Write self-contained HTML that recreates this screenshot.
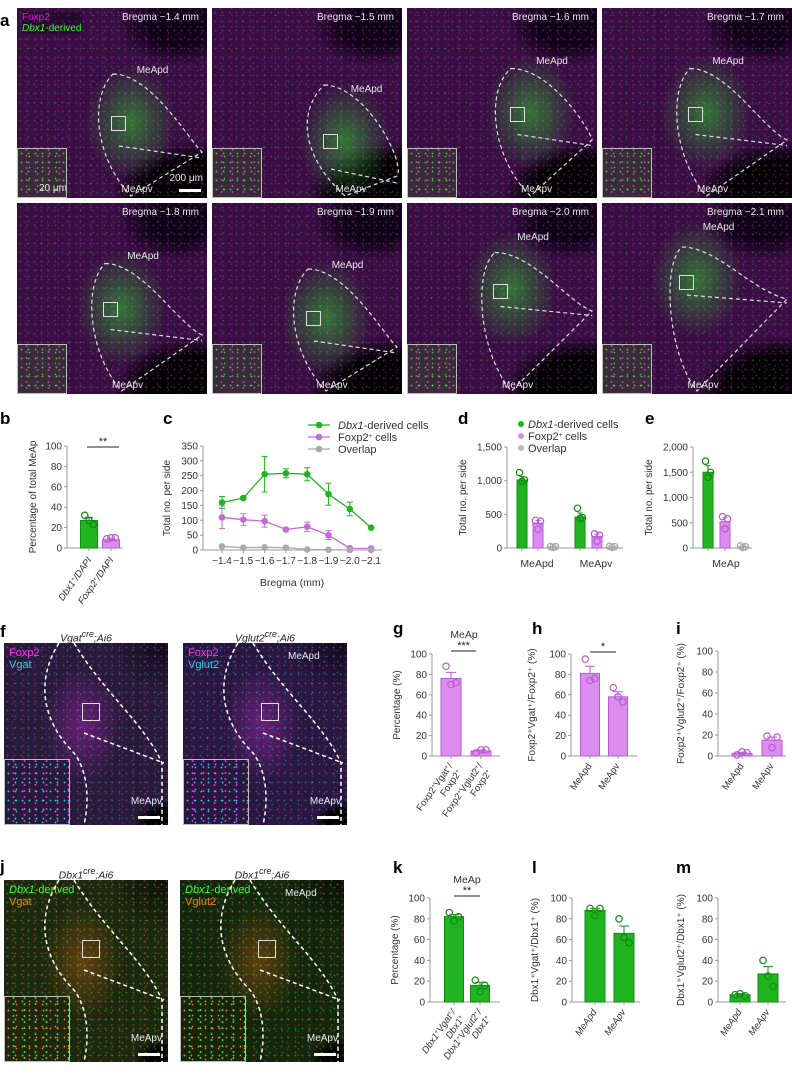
<!DOCTYPE html>
<html><head><meta charset="utf-8">
<style>
body{margin:0;background:#fff;width:792px;height:1080px;position:relative;overflow:hidden;font-family:"Liberation Sans",sans-serif}
.img{position:absolute;overflow:hidden}
.t{position:absolute;font-size:10px;color:#e6e6e6;white-space:nowrap}
.ttl{position:absolute;font-size:10.5px;font-style:italic;color:#222;white-space:nowrap}
.inset{position:absolute;left:0;bottom:0;width:50px;height:50px;border:1px solid #bbb;box-sizing:border-box}
.box{position:absolute;width:13px;height:13px;border:1px solid #ddd}
.sb{position:absolute;height:3px;width:22px;background:#fff}
svg text{font-family:"Liberation Sans",sans-serif}
</style></head><body>
<div id="imgs"></div>
<svg id="ch" width="792" height="1080" style="position:absolute;left:0;top:0"></svg>
<script>
// ---------- chart data ----------
const bVals=[27,8], bPts=[[32,27,23],[9,10,10]], bErr=[3,1];
const cCats=["-1.4","-1.5","-1.6","-1.7","-1.8","-1.9","-2.0","-2.1"];
const cDbx=[160,175,255,258,255,188,138,75], cDbxErr=[20,5,60,15,22,37,23,3];
const cFox=[110,102,97,69,78,50,6,5], cFoxErr=[38,20,20,5,16,15,2,2];
const cOv=[12,8,9,8,2,1,0,0];
const dVals=[1010,370,15,460,170,15], dPts=[[1120,990,1010],[410,280,400],[20,10,20],[590,440,450],[210,100,190],[25,10,20]], dErr=[50,40,3,60,35,3];
const eVals=[1500,520,25], ePts=[[1720,1400,1500],[620,380,580],[40,10,25]], eErr=[130,80,5];
const gVals=[76,5], gPts=[[88,70,72],[3,6,6]], gErr=[6,1];
const hVals=[81,58], hPts=[[95,74,76],[67,58,53]], hErr=[7,5];
const iVals=[2.5,15], iPts=[[1,4,3],[19,8,18]], iErr=[1,3];
const kVals=[82,16], kPts=[[86,78,82],[21,10,16]], kErr=[2,3];
const lVals=[88,66], lPts=[[90,83,90],[80,62,57]], lErr=[2,7];
const mVals=[7,27], mPts=[[7,8,6],[40,25,15]], mErr=[1,7];
const pctTicks=[0,20,40,60,80,100];

const G={fill:"#20b420",st:"#0f8c0f"}, P={fill:"#dc8ef0",st:"#b85ad0"}, Y={fill:"#c8c8c8",st:"#a8a8a8"};
const NS="http://www.w3.org/2000/svg", svg=document.getElementById('ch');
function el(tag,at,txt){const e=document.createElementNS(NS,tag);for(const k in at)e.setAttribute(k,at[k]);if(txt!==undefined)e.textContent=txt;svg.appendChild(e);return e;}
function yScale(c,v){return c.y0-(v/c.max)*(c.y0-c.yTop);}
function axes(c,name){
  const a=el('line',{x1:c.ax,y1:c.yTop,x2:c.ax,y2:c.y0,stroke:"#999","stroke-width":1});
  
  const b=el('line',{x1:c.ax,y1:c.y0,x2:c.end,y2:c.y0,stroke:"#999","stroke-width":1});
  
  c.ticks.forEach(t=>{const y=yScale(c,t);
    el('line',{x1:c.ax-3,y1:y,x2:c.ax,y2:y,stroke:"#999"});
    const tx=el('text',{x:c.ax-5,y:y+3.5,"font-size":10,"text-anchor":"end",fill:"#333"},t.toLocaleString('en-US'));
    });
  if(c.ytitle){const t=el('text',{x:c.tx,y:(c.y0+c.yTop)/2,"font-size":10,"text-anchor":"middle",fill:"#333",transform:`rotate(-90 ${c.tx} ${(c.y0+c.yTop)/2})`},c.ytitle);
    }
}
function bars(c,name,vals,pts,errs){
  vals.forEach((v,i)=>{const col=c.cols[i],cx=c.cx[i],w=c.w;const y=yScale(c,v);
    const eT=yScale(c,v+errs[i]);
    el('line',{x1:cx,y1:eT,x2:cx,y2:y,stroke:col.st});
    el('line',{x1:cx-w/4,y1:eT,x2:cx+w/4,y2:eT,stroke:col.st});
    const r=el('rect',{x:cx-w/2,y:y,width:w,height:c.y0-y,fill:col.fill,stroke:col.st,"stroke-width":1});
    
    el('line',{x1:cx,y1:c.y0,x2:cx,y2:c.y0+3,stroke:"#999"});
    const off=[-w/4,0,w/4];
    pts[i].forEach((p,j)=>{const d=el('circle',{cx:cx+off[j],cy:yScale(c,p),r:3.2,fill:"none",stroke:col.st,"stroke-width":1.2});
      });
  });
}
function sig(x1,x2,y,s){el('line',{x1:x1,y1:y,x2:x2,y2:y,stroke:"#222"});el('text',{x:(x1+x2)/2,y:y-2,"font-size":11,"text-anchor":"middle",fill:"#222"},s);}
function rotLab(x,y,lines,italic){const g=document.createElementNS(NS,'text');
  g.setAttribute('transform',`translate(${x} ${y}) rotate(-55)`);g.setAttribute('font-size',9.5);g.setAttribute('text-anchor','end');g.setAttribute('fill','#333');
  if(italic)g.setAttribute('font-style','italic');
  
  lines.forEach((l,i)=>{const ts=document.createElementNS(NS,'tspan');ts.setAttribute('x',0);ts.setAttribute('dy',i?11:0);ts.innerHTML=l;g.appendChild(ts);});
  svg.appendChild(g);}
function panelLab(x,y,s){const t=el('text',{x:x,y:y,"font-size":17,"font-weight":"bold",fill:"#000"},s);}
const sup=s=>`<tspan baseline-shift="super" font-size="6">${s}</tspan>`;

// b
const cb={ax:67,y0:548,yTop:446,max:100,end:123,ticks:pctTicks,cx:[89,111],w:17,cols:[G,P],ytitle:"Percentage of total MeAp",tx:36};
axes(cb,'b');bars(cb,'b',bVals,bPts,bErr);sig(87,119,447,"**");
rotLab(92,560,["Dbx1"+sup("+")+"/DAPI"],true);rotLab(114,560,["Foxp2"+sup("+")+"/DAPI"],true);
panelLab(0,424,"b");
// c
const cc={ax:203,y0:550,yTop:446,max:350,end:382,ticks:[0,50,100,150,200,250,300,350],ytitle:"Total no. per side",tx:170};
axes(cc,'c');
const cx=i=>222+i*21.3;
cCats.forEach((s,i)=>{el('line',{x1:cx(i),y1:cc.y0,x2:cx(i),y2:cc.y0+3,stroke:"#999"});
  const t=el('text',{x:cx(i),y:cc.y0+14,"font-size":10,"text-anchor":"middle",fill:"#333"},s.replace('-','\u2212'));
  });
el('text',{x:292,y:586,"font-size":10.5,"text-anchor":"middle",fill:"#333"},"Bregma (mm)");
[[cDbx,cDbxErr,"#22b422","dbx1"],[cFox,cFoxErr,"#c66ad8","foxp2"],[cOv,cOv.map(()=>0),"#aaa","overlap"]].forEach(([v,e,col,n])=>{
  const l=el('polyline',{points:v.map((d,i)=>cx(i)+","+yScale(cc,d)).join(" "),fill:"none",stroke:col,"stroke-width":1.3});
  
  v.forEach((d,i)=>{if(e[i]>0){el('line',{x1:cx(i),y1:yScale(cc,d-e[i]),x2:cx(i),y2:yScale(cc,d+e[i]),stroke:col});
     el('line',{x1:cx(i)-3,y1:yScale(cc,d+e[i]),x2:cx(i)+3,y2:yScale(cc,d+e[i]),stroke:col});el('line',{x1:cx(i)-3,y1:yScale(cc,d-e[i]),x2:cx(i)+3,y2:yScale(cc,d-e[i]),stroke:col});}
    const p=el('circle',{cx:cx(i),cy:yScale(cc,d),r:3.3,fill:col});});
});
[["#22b422","<tspan font-style='italic'>Dbx1</tspan>-derived cells",425],["#c66ad8","Foxp2"+sup("+")+" cells",437],["#aaa","Overlap",449]].forEach(([col,s,y])=>{
  el('line',{x1:308,y1:y,x2:330,y2:y,stroke:col,"stroke-width":1.3});el('circle',{cx:319,cy:y,r:3.3,fill:col});
  const t=el('text',{x:338,y:y+4,"font-size":11,fill:"#333"});t.innerHTML=s;});
panelLab(163,424,"c");
// d
const cd={ax:507,y0:548,yTop:447,max:1500,end:623,ticks:[0,500,1000,1500],cx:[522,538,553,580,597,612],w:10,cols:[G,P,Y,G,P,Y],ytitle:"Total no. per side",tx:466};
axes(cd,'d');bars(cd,'d',dVals,dPts,dErr);
el('text',{x:537,y:567,"font-size":10.5,"text-anchor":"middle",fill:"#333"},"MeApd");el('text',{x:596,y:567,"font-size":10.5,"text-anchor":"middle",fill:"#333"},"MeApv");
[["#22b422","<tspan font-style='italic'>Dbx1</tspan>-derived cells",425],["#d98ce8","Foxp2"+sup("+")+" cells",437],["#bbb","Overlap",449]].forEach(([col,s,y])=>{
  el('circle',{cx:521,cy:y-1,r:3,fill:col});const t=el('text',{x:528,y:y+3,"font-size":11,fill:"#333"});t.innerHTML=s;});
panelLab(458,424,"d");
// e
const ce={ax:693,y0:548,yTop:447,max:2000,end:752,ticks:[0,500,1000,1500,2000],cx:[708,725,743],w:10,cols:[G,P,Y],ytitle:"Total no. per side",tx:652};
axes(ce,'e');bars(ce,'e',eVals,ePts,eErr);el('text',{x:726,y:567,"font-size":10.5,"text-anchor":"middle",fill:"#333"},"MeAp");
panelLab(645,424,"e");
// g h i
const cg={ax:432,y0:756,yTop:654,max:100,end:500,ticks:pctTicks,cx:[451,481],w:20,cols:[P,P],ytitle:"Percentage (%)",tx:400};
axes(cg,'g');bars(cg,'g',gVals,gPts,gErr);sig(451,476,651,"***");el('text',{x:464,y:638,"font-size":10.5,"text-anchor":"middle",fill:"#333"},"MeAp");
rotLab(453,766,["Foxp2"+sup("+")+"Vgat"+sup("+")+"/","Foxp2"+sup("+")]);rotLab(483,766,["Foxp2"+sup("+")+"Vglut2"+sup("+")+"/","Foxp2"+sup("+")]);
const chh={ax:571,y0:756,yTop:654,max:100,end:637,ticks:pctTicks,cx:[590,618],w:19,cols:[P,P],ytitle:"Foxp2\u207AVgat\u207A/Foxp2\u207A (%)",tx:535};
axes(chh,'h');bars(chh,'h',hVals,hPts,hErr);sig(590,616,652,"*");rotLab(592,766,["MeApd"]);rotLab(620,766,["MeApv"]);
const ci={ax:718,y0:756,yTop:651,max:100,end:786,ticks:pctTicks,cx:[742,772],w:20,cols:[P,P],ytitle:"Foxp2\u207AVglut2\u207A/Foxp2\u207A (%)",tx:684};
axes(ci,'i');bars(ci,'i',iVals,iPts,iErr);rotLab(744,766,["MeApd"]);rotLab(774,766,["MeApv"]);
panelLab(393,634,"g");panelLab(532,634,"h");panelLab(676,634,"i");
// k l m
const ck={ax:430,y0:1002,yTop:898,max:100,end:500,ticks:pctTicks,cx:[454,480],w:19,cols:[G,G],ytitle:"Percentage (%)",tx:398};
axes(ck,'k');bars(ck,'k',kVals,kPts,kErr);sig(454,480,896,"**");el('text',{x:467,y:883,"font-size":10.5,"text-anchor":"middle",fill:"#333"},"MeAp");
rotLab(456,1012,["Dbx1"+sup("+")+"Vgat"+sup("+")+"/","Dbx1"+sup("+")],true);rotLab(482,1012,["Dbx1"+sup("+")+"Vglut2"+sup("+")+"/","Dbx1"+sup("+")],true);
const cl={ax:572,y0:1002,yTop:898,max:100,end:640,ticks:pctTicks,cx:[595,624],w:20,cols:[G,G],ytitle:"Dbx1\u207AVgat\u207A/Dbx1\u207A (%)",tx:538};
axes(cl,'l');bars(cl,'l',lVals,lPts,lErr);rotLab(597,1012,["MeApd"],true);rotLab(626,1012,["MeApv"],true);
const cm={ax:718,y0:1002,yTop:898,max:100,end:786,ticks:pctTicks,cx:[740,768],w:20,cols:[G,G],ytitle:"Dbx1\u207AVglut2\u207A/Dbx1\u207A (%)",tx:684};
axes(cm,'m');bars(cm,'m',mVals,mPts,mErr);rotLab(742,1012,["MeApd"],true);rotLab(770,1012,["MeApv"],true);
panelLab(393,873,"k");panelLab(532,873,"l");panelLab(676,873,"m");
panelLab(0,26,"a");panelLab(0,637,"f");panelLab(0,872,"j");

// ---------- micrograph approximations ----------
const host=document.getElementById('imgs');
function dots(c1,c2){return `radial-gradient(circle,${c1} 0.6px,transparent 1.2px) 0 0/7px 9px,radial-gradient(circle,${c2} 0.6px,transparent 1.2px) 3px 4px/11px 6px,radial-gradient(circle,${c1} 0.5px,transparent 1.1px) 5px 2px/13px 11px`;}
const aImgs=[["−1.4",17,8,60,60],["−1.5",212,8,70,70],["−1.6",407,8,65,55],["−1.7",602,8,55,55],["−1.8",17,203,55,55],["−1.9",212,203,60,60],["−2.0",407,203,55,45],["−2.1",602,203,50,40]];
aImgs.forEach(([b,x,y,gx,gy],i)=>{
  const d=document.createElement('div');d.className='img';
  
  
  d.style.cssText=`left:${x}px;top:${y}px;width:190px;height:${i<4?190:191}px;background:${dots('rgba(60,230,60,.3)','rgba(230,40,230,.3)')},radial-gradient(ellipse 30% 38% at ${gx}% ${gy}%,rgba(50,160,50,.7),transparent 80%),radial-gradient(ellipse 60% 40% at 95% 100%,#050005 50%,transparent 75%),radial-gradient(ellipse 40% 25% at 85% 10%,#12001a 40%,transparent 80%),#3a0d44`;
  d.innerHTML=`<span class="t" style="right:8px;top:4px">Bregma ${b} mm</span><span class="t" style="left:${gx+3}%;top:${gy-30}%">MeApd</span><span class="t" style="left:${gx-5}%;bottom:3px">MeApv</span><div class="box" style="left:${gx*1.7-8}px;top:${gy*1.8}px"></div><div class="inset" style="background:${dots('rgba(80,255,80,.7)','rgba(255,80,255,.7)')},#3a2a3a"></div>
  <svg width="190" height="190" style="position:absolute;left:0;top:0"><path d="M${gx*1.6} ${gy*1.1} C${gx*1.9+20} ${gy*1.1} ${gx*2.2+40} ${gy*2.2} 185 ${gy*2.4} L${gx*1.9} 188 C${gx*1.3} 150 ${gx*1.2} ${gy*1.5} ${gx*1.6} ${gy*1.1} Z M${gx*1.7} ${gy*2.3} L185 ${gy*2.5}" fill="none" stroke="#ddd" stroke-width="1.2" stroke-dasharray="4 3"/></svg>`;
  if(i===0)d.innerHTML+=`<span class="t" style="left:5px;top:4px;color:#f0f;background:rgba(0,0,0,.3)">Foxp2<br><i style="color:#3f3">Dbx1</i><span style="color:#3f3">-derived</span></span><span class="t" style="right:4px;bottom:14px">200 μm</span><div class="sb" style="right:6px;bottom:6px"></div><span class="t" style="left:22px;bottom:4px">20 μm</span>`;
  host.appendChild(d);
});
const fj=[[4,643,'#2a1a3a','rgba(40,210,220,.35)','rgba(220,40,230,.35)',"Vgat<sup>cre</sup>;Ai6",'Foxp2','Vgat','#f3f','#3ce','f-vgat'],
 [183,643,'#2a1740','rgba(40,210,230,.4)','rgba(220,50,230,.3)',"Vglut2<sup>cre</sup>;Ai6",'Foxp2','Vglut2','#f3f','#3ce','f-vglut2'],
 [4,880,'#1e2810','rgba(50,230,40,.45)','rgba(230,110,20,.4)',"Dbx1<sup>cre</sup>;Ai6",'<i>Dbx1</i>-derived','Vgat','#3f3','#e81','j-vgat'],
 [180,880,'#16260e','rgba(50,240,40,.45)','rgba(230,110,20,.3)',"Dbx1<sup>cre</sup>;Ai6",'<i>Dbx1</i>-derived','Vglut2','#3f3','#e81','j-vglut2']];
fj.forEach(([x,y,bg,c1,c2,title,l1,l2,k1,k2,n])=>{
  const t=document.createElement('div');t.className='ttl';
  
  
  t.style.cssText=`left:${x}px;top:${y-14}px;width:164px;text-align:center`;t.innerHTML=title;host.appendChild(t);
  const d=document.createElement('div');d.className='img';
  
  
  d.style.cssText=`left:${x}px;top:${y}px;width:164px;height:182px;background:${dots(c1,c2)},radial-gradient(ellipse 30% 40% at 48% 45%,${c2.replace(/[\d.]+\)$/,'0.35)')},transparent 80%),radial-gradient(ellipse 45% 35% at 100% 0%,rgba(0,0,0,.6),transparent 80%),radial-gradient(ellipse 30% 20% at 100% 100%,#000 40%,transparent 70%),${bg}`;
  d.innerHTML=`<span class="t" style="left:5px;top:4px;font-size:11px;color:${k1}">${l1}<br><span style="color:${k2}">${l2}</span></span><span class="t" style="left:105px;top:8px">${x>100?'MeApd':''}</span><span class="t" style="right:6px;bottom:18px">MeApv</span><div class="box" style="left:78px;top:60px;width:16px;height:16px"></div><div class="inset" style="width:66px;height:66px;background:${dots(k2,k1)},${bg}"></div><div class="sb" style="right:8px;bottom:6px"></div>
  <svg width="164" height="182" style="position:absolute;left:0;top:0"><path d="M55 0 C30 40 40 80 70 110 C85 130 85 160 80 182 M70 0 C100 50 140 80 158 120 L158 182 M80 90 L160 120" fill="none" stroke="#fff" stroke-width="1.5" stroke-dasharray="4 3"/></svg>`;
  host.appendChild(d);
});
</script>
</body></html>
